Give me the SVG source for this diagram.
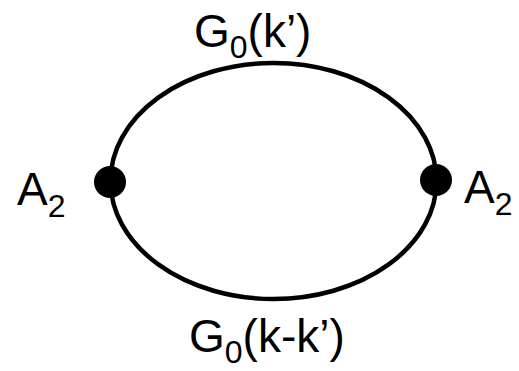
<svg xmlns="http://www.w3.org/2000/svg" width="519" height="371" viewBox="0 0 519 371">
<style>
.lbl{font-family:"Liberation Sans",Arial,sans-serif;font-size:46px;fill:#000}
.sub{font-size:32px}
.line{fill:none;stroke:#000;stroke-width:4.5}
.dot{fill:#000}
</style>
<rect width="519" height="371" fill="#fff"/>
<g id="connectors">
<ellipse class="line" cx="273.5" cy="181" rx="163" ry="118"/>
</g>
<g id="vertex-left"><circle class="dot" cx="110" cy="182" r="16"/></g>
<g id="vertex-right"><circle class="dot" cx="436" cy="180" r="16"/></g>
<g id="label-top"><text class="lbl" x="194" y="47">G<tspan class="sub" dy="11">0</tspan><tspan dy="-11">(k’)</tspan></text></g>
<g id="label-bottom"><text class="lbl" x="189" y="352">G<tspan class="sub" dy="11">0</tspan><tspan dy="-11">(k-k’)</tspan></text></g>
<g id="label-left"><text class="lbl" x="17" y="205">A<tspan class="sub" dy="12">2</tspan></text></g>
<g id="label-right"><text class="lbl" x="464" y="203">A<tspan class="sub" dy="12">2</tspan></text></g>
</svg>
